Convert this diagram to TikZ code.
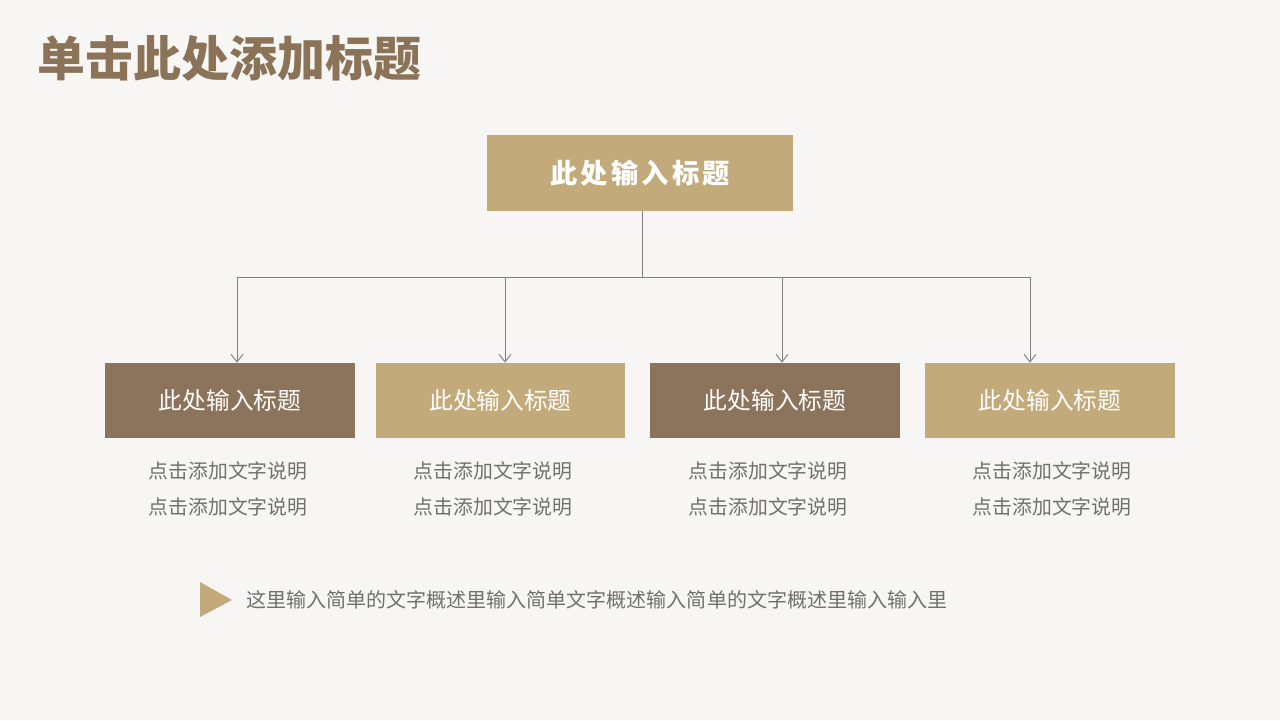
\documentclass[tikz,border=0pt]{standalone}
\usepackage{fontspec}
\setmainfont{Noto Sans CJK SC}
\newfontfamily\widefont[LetterSpace=12]{Noto Sans CJK SC}
\usetikzlibrary{arrows.meta}

\definecolor{pagebg}{RGB}{247,246,244}
\definecolor{darkbrown}{RGB}{140,116,92}
\definecolor{lighttan}{RGB}{195,170,122}
\definecolor{titlebrown}{RGB}{139,115,88}
\definecolor{notegray}{RGB}{112,112,112}
\definecolor{linkgray}{RGB}{128,128,128}

\begin{document}
\begin{tikzpicture}[x=0.02cm,y=-0.02cm,
    leadbox/.style={fill=lighttan, text=white, minimum width=6.12cm, minimum height=1.52cm, inner sep=0pt,
        font=\widefont\bfseries\fontsize{15.5}{18}\selectfont},
    subbox/.style={minimum width=5cm, minimum height=1.5cm, inner sep=0pt, text=white,
        font=\fontsize{13.5}{16}\selectfont},
    note/.style={text=notegray, inner sep=0pt, font=\fontsize{11.3}{14}\selectfont},
    link/.style={draw=linkgray, line width=0.55pt},
    tip/.style={-{Straight Barb[length=1.5mm,width=2.4mm,line width=0.55pt]}}]

    % page
    \fill[pagebg] (0,0) rectangle (1280,720);
    \useasboundingbox (0,0) rectangle (1280,720);

    % heading
    \node[anchor=west, inner sep=0pt, text=titlebrown, font=\bfseries\fontsize{27.3}{32}\selectfont] (heading) at (37,58) {单击此处添加标题};

    % top box
    \node[leadbox] (lead) at (640,173) {此处输入标题};

    % four boxes with two lines of notes below
    \foreach \i/\x/\c/\nx in {1/230/darkbrown/228, 2/500.5/lighttan/493, 3/775/darkbrown/768, 4/1050/lighttan/1052} {
        \node[subbox, fill=\c] (c\i) at (\x,400.5) {此处输入标题};
        \node[note] (n\i a) at (\nx,471) {点击添加文字说明};
        \node[note] (n\i b) at (\nx,507) {点击添加文字说明};
    }

    % connectors
    \coordinate (hub) at (642,277);
    \coordinate (b1) at (237,277);
    \coordinate (b2) at (505,277);
    \coordinate (b3) at (782,277);
    \coordinate (b4) at (1030,277);
    \draw[link] (lead.south -| hub) -- (hub);
    \draw[link] (b1) -- (b4);
    \foreach \i in {1,...,4}
        \draw[link, tip] (b\i) -- (b\i |- c\i.north);

    % summary line
    \fill[lighttan] (200,582) -- (232,600) -- (200,617) -- cycle;
    \node[anchor=west, inner sep=0pt, text=notegray, font=\fontsize{11.4}{14}\selectfont] (summary) at (246,600)
        {这里输入简单的文字概述里输入简单文字概述输入简单的文字概述里输入输入里};
\end{tikzpicture}
\end{document}
